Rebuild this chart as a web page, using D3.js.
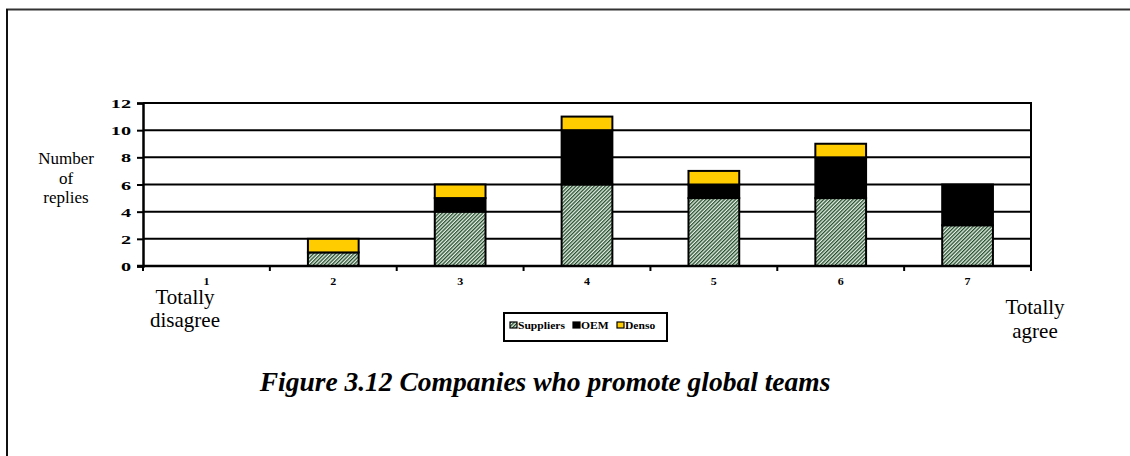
<!DOCTYPE html>
<html>
<head>
<meta charset="utf-8">
<script src="https://cdn.jsdelivr.net/npm/d3@7"></script>
<style>
  body { margin: 0; background: #fff; }
  text { font-family: "Liberation Serif", "Times New Roman", serif; fill: #000; }
</style>
</head>
<body>
<div id="chart"></div>
<script>
//Data
var categories = ["1", "2", "3", "4", "5", "6", "7"];
var suppliers = [0, 1, 4, 6, 5, 5, 3];
var oem = [0, 0, 1, 4, 1, 3, 3];
var denso = [0, 1, 1, 1, 1, 1, 0];
var seriesNames = ["Suppliers", "OEM", "Denso"];
var yTicks = [0, 2, 4, 6, 8, 10, 12];

var width = 1130;
var height = 456;

var svg = d3.select("#chart")
  .append("svg")
  .attr("width", width)
  .attr("height", height);

//Hatched fill for the suppliers
var defs = svg.append("defs");
var pat = defs.append("pattern")
  .attr("id", "hatch")
  .attr("patternUnits", "userSpaceOnUse")
  .attr("width", 2.6)
  .attr("height", 2.6)
  .attr("patternTransform", "rotate(45)");
pat.append("rect").attr("width", 2.6).attr("height", 2.6).attr("fill", "#e8efe8");
pat.append("rect").attr("width", 1.3).attr("height", 2.6).attr("fill", "#244f2c");

var fills = { Suppliers: "url(#hatch)", OEM: "#000", Denso: "#ffcc00" };

//Outer frame lines
svg.append("line").attr("x1", 6).attr("x2", width).attr("y1", 9.5).attr("y2", 9.5)
  .attr("stroke", "#333").attr("stroke-width", 2);
svg.append("line").attr("x1", 7).attr("x2", 7).attr("y1", 9).attr("y2", height)
  .attr("stroke", "#111").attr("stroke-width", 2);

var plot = { left: 143, right: 1031, top: 103, bottom: 266 };

var x = d3.scaleBand()
  .domain(categories)
  .range([plot.left, plot.right])
  .paddingInner(0.6)
  .paddingOuter(0.3);

var xEdge = d3.scaleLinear()
  .domain([0, categories.length])
  .range([plot.left, plot.right]);

var y = d3.scaleLinear()
  .domain([0, 12])
  .range([plot.bottom, plot.top]);

//Gridlines
svg.append("g")
  .selectAll("line")
  .data(yTicks)
  .join("line")
  .attr("x1", plot.left)
  .attr("x2", plot.right)
  .attr("y1", function(d) { return y(d); })
  .attr("y2", function(d) { return y(d); })
  .attr("stroke", "#000")
  .attr("stroke-width", 2);

//Right border of plot
svg.append("line")
  .attr("x1", plot.right).attr("x2", plot.right)
  .attr("y1", plot.top - 1).attr("y2", plot.bottom + 4)
  .attr("stroke", "#000").attr("stroke-width", 2);

//Stacked bars
var rows = categories.map(function(c, i) {
  return { cat: c, Suppliers: suppliers[i], OEM: oem[i], Denso: denso[i] };
});
var stack = d3.stack().keys(seriesNames)(rows);

svg.append("g")
  .selectAll("g")
  .data(stack)
  .join("g")
  .attr("fill", function(d) { return fills[d.key]; })
  .selectAll("rect")
  .data(function(d) { return d.filter(function(p) { return p[1] > p[0]; }); })
  .join("rect")
  .attr("x", function(d) { return x(d.data.cat); })
  .attr("width", x.bandwidth())
  .attr("y", function(d) { return y(d[1]); })
  .attr("height", function(d) { return y(d[0]) - y(d[1]); })
  .attr("stroke", "#000")
  .attr("stroke-width", 2);

//Y axis (labels are wide in the original, so stretch them a bit)
var yAxis = svg.append("g")
  .attr("transform", "translate(" + plot.left + ",0)")
  .call(d3.axisLeft(y).tickValues(yTicks).tickSize(6).tickPadding(0));
yAxis.select(".domain").attr("stroke-width", 2.5);
yAxis.selectAll(".tick line").attr("stroke-width", 2);
yAxis.selectAll(".tick text")
  .attr("x", 0)
  .attr("dy", "0.34em")
  .attr("transform", "translate(-12,0) scale(1.5,1)")
  .attr("font-family", "Liberation Serif")
  .attr("font-weight", "bold")
  .attr("font-size", 13.5);

//X axis baseline with ticks at category edges
svg.append("line")
  .attr("x1", plot.left - 6).attr("x2", plot.right)
  .attr("y1", plot.bottom).attr("y2", plot.bottom)
  .attr("stroke", "#000").attr("stroke-width", 2.5);
svg.append("g")
  .selectAll("line")
  .data(d3.range(categories.length + 1))
  .join("line")
  .attr("x1", function(d) { return xEdge(d); })
  .attr("x2", function(d) { return xEdge(d); })
  .attr("y1", plot.bottom)
  .attr("y2", plot.bottom + 5)
  .attr("stroke", "#000")
  .attr("stroke-width", 2);

svg.append("g")
  .selectAll("text")
  .data(categories)
  .join("text")
  .attr("transform", function(d) {
    return "translate(" + (x(d) + x.bandwidth() / 2) + ",285) scale(1.2,1)";
  })
  .attr("text-anchor", "middle")
  .attr("font-weight", "bold")
  .attr("font-size", 10)
  .text(function(d) { return d; });

//Axis titles
var yTitle = svg.append("text")
  .attr("text-anchor", "middle")
  .attr("font-size", 17);
["Number", "of", "replies"].forEach(function(t, i) {
  yTitle.append("tspan").attr("x", 66).attr("y", 164 + i * 19.5).text(t);
});

var leftText = svg.append("text")
  .attr("text-anchor", "middle")
  .attr("font-size", 21);
["Totally", "disagree"].forEach(function(t, i) {
  leftText.append("tspan").attr("x", 185).attr("y", 304 + i * 23).text(t);
});

var rightText = svg.append("text")
  .attr("text-anchor", "middle")
  .attr("font-size", 21);
["Totally", "agree"].forEach(function(t, i) {
  rightText.append("tspan").attr("x", 1035).attr("y", 314 + i * 24).text(t);
});

//Legend
var legend = svg.append("g").attr("transform", "translate(504,313)");
legend.append("rect")
  .attr("width", 163).attr("height", 28)
  .attr("fill", "#fff").attr("stroke", "#000").attr("stroke-width", 2);
var legendX = [6, 69, 113];
seriesNames.forEach(function(name, i) {
  var g = legend.append("g").attr("transform", "translate(" + legendX[i] + ",9)");
  g.append("rect").attr("width", 7).attr("height", 6)
    .attr("fill", fills[name]).attr("stroke", "#000").attr("stroke-width", 1.2);
  g.append("text")
    .attr("transform", "translate(8,6.5) scale(1.22,1)")
    .attr("font-weight", "bold").attr("font-size", 9.5).text(name);
});

//Figure caption
svg.append("text")
  .attr("x", 545)
  .attr("y", 391)
  .attr("text-anchor", "middle")
  .attr("font-weight", "bold")
  .attr("font-style", "italic")
  .attr("font-size", 27.5)
  .text("Figure 3.12 Companies who promote global teams");
</script>
</body>
</html>
